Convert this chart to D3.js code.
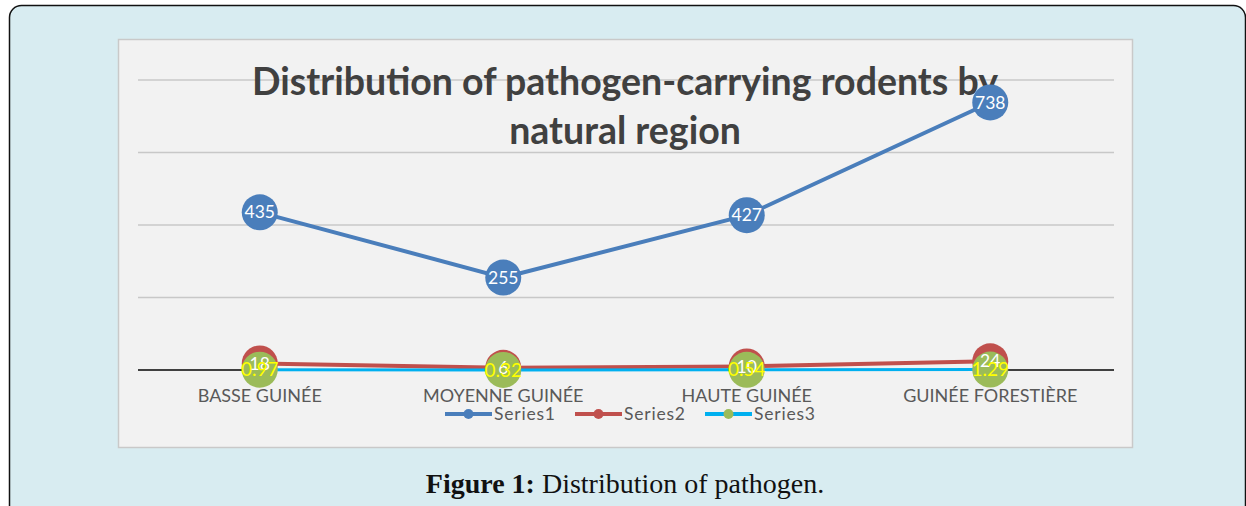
<!DOCTYPE html>
<html><head><meta charset="utf-8">
<script src="https://cdnjs.cloudflare.com/ajax/libs/d3/7.8.5/d3.min.js"></script>
<style>html,body{margin:0;padding:0;background:#fff;}svg{display:block;}</style>
</head><body>
<script>
const categories = ["BASSE GUINÉE", "MOYENNE GUINÉE", "HAUTE GUINÉE", "GUINÉE FORESTIÈRE"];
const series1 = [435, 255, 427, 738];
const series2 = [18, 6, 10, 24];
const series3 = [0.97, 0.32, 0.54, 1.29];
const seriesNames = ["Series1", "Series2", "Series3"];
const yTicks = [0, 200, 400, 600, 800];
const titleLines = ["Distribution of pathogen-carrying rodents by", "natural region"];

const W = 1246, H = 506;
const svg = d3.select("body").append("svg").attr("width", W).attr("height", H);

// outer rounded box
svg.append("rect").attr("x", 9.5).attr("y", 5.5).attr("width", 1236).attr("height", 520)
  .attr("rx", 12).attr("fill", "#d8ecf1").attr("stroke", "#111").attr("stroke-width", 1.5);

// chart panel
svg.append("rect").attr("x", 118.5).attr("y", 39.5).attr("width", 1014).attr("height", 408)
  .attr("fill", "#f2f2f2").attr("stroke", "#c9c9c9").attr("stroke-width", 1.5);

const x = d3.scaleBand().domain(categories).range([138, 1112]);
const y = d3.scaleLinear().domain([0, 800]).range([370, 80]);
const cx = d => x(d) + x.bandwidth() / 2;

// gridlines
svg.append("g").selectAll("line").data(yTicks.slice(1)).join("line")
  .attr("x1", 138).attr("x2", 1114).attr("y1", d => y(d)).attr("y2", d => y(d))
  .attr("stroke", "#c8c8c8").attr("stroke-width", 1.3);

// baseline axis
svg.append("line").attr("x1", 138).attr("x2", 1114).attr("y1", y(0)).attr("y2", y(0))
  .attr("stroke", "#404040").attr("stroke-width", 2.2);

// category labels
const xAxis = d3.axisBottom(x).tickSize(0).tickPadding(0);
const ax = svg.append("g").attr("transform", `translate(0,${y(0)})`).call(xAxis);
ax.select(".domain").remove();
ax.selectAll("text").attr("y", 32).attr("dy", 0).attr("fill", "#595959")
  .attr("font-family", "Lato, 'Open Sans', sans-serif").attr("font-size", 18);

// title
svg.append("g").selectAll("text").data(titleLines).join("text")
  .attr("x", 625).attr("y", (d, i) => 95 + i * 49).attr("text-anchor", "middle")
  .attr("font-family", "Lato, 'Open Sans', sans-serif").attr("font-weight", "bold")
  .attr("font-size", 37.5).attr("fill", "#404040").text(d => d);

function drawSeries(vals, lineColor, lineW, dotColor) {
  const line = d3.line().x((d, i) => cx(categories[i])).y(d => y(d));
  svg.append("path").datum(vals).attr("d", line).attr("fill", "none")
    .attr("stroke", lineColor).attr("stroke-width", lineW);
  svg.append("g").selectAll("circle").data(vals).join("circle")
    .attr("cx", (d, i) => cx(categories[i])).attr("cy", d => y(d)).attr("r", 18)
    .attr("fill", dotColor);
}
function drawLabels(vals, color, size) {
  svg.append("g").selectAll("text").data(vals).join("text")
    .attr("x", (d, i) => cx(categories[i])).attr("y", d => y(d)).attr("dy", "0.35em")
    .attr("text-anchor", "middle").attr("fill", color)
    .attr("font-family", "Lato, 'Open Sans', sans-serif").attr("font-size", size)
    .text(d => d);
}

drawSeries(series1, "#4a7ebb", 4, "#4a7ebb");
drawLabels(series1, "#ffffff", 17.5);
drawSeries(series2, "#c0504d", 4, "#c0504d");
drawSeries(series3, "#00b0f0", 3, "#9bbb59");
drawLabels(series2, "#ffffff", 17.5);
drawLabels(series3, "#ffff00", 19);

// legend
const legendColors = [["#4a7ebb", "#4a7ebb"], ["#c0504d", "#c0504d"], ["#00b0f0", "#9bbb59"]];
const legendX = [445, 575, 705];
const lg = svg.append("g").selectAll("g").data(seriesNames).join("g")
  .attr("transform", (d, i) => `translate(${legendX[i]},414)`);
lg.append("line").attr("x1", 0).attr("x2", 47).attr("stroke", (d, i) => legendColors[i][0]).attr("stroke-width", 4);
lg.append("circle").attr("cx", 23.5).attr("r", 5).attr("fill", (d, i) => legendColors[i][1]);
lg.append("text").attr("x", 49).attr("dy", "0.35em").attr("fill", "#595959")
  .attr("font-family", "Lato, 'Open Sans', sans-serif").attr("font-size", 17.5)
  .attr("letter-spacing", 0.8).text(d => d);

// caption
const cap = svg.append("text").attr("x", 625).attr("y", 493).attr("text-anchor", "middle")
  .attr("font-family", "'Liberation Serif', 'DejaVu Serif', serif").attr("font-size", 28).attr("fill", "#111");
cap.append("tspan").attr("font-weight", "bold").text("Figure 1:");
cap.append("tspan").text(" Distribution of pathogen.");
</script>
</body></html>
